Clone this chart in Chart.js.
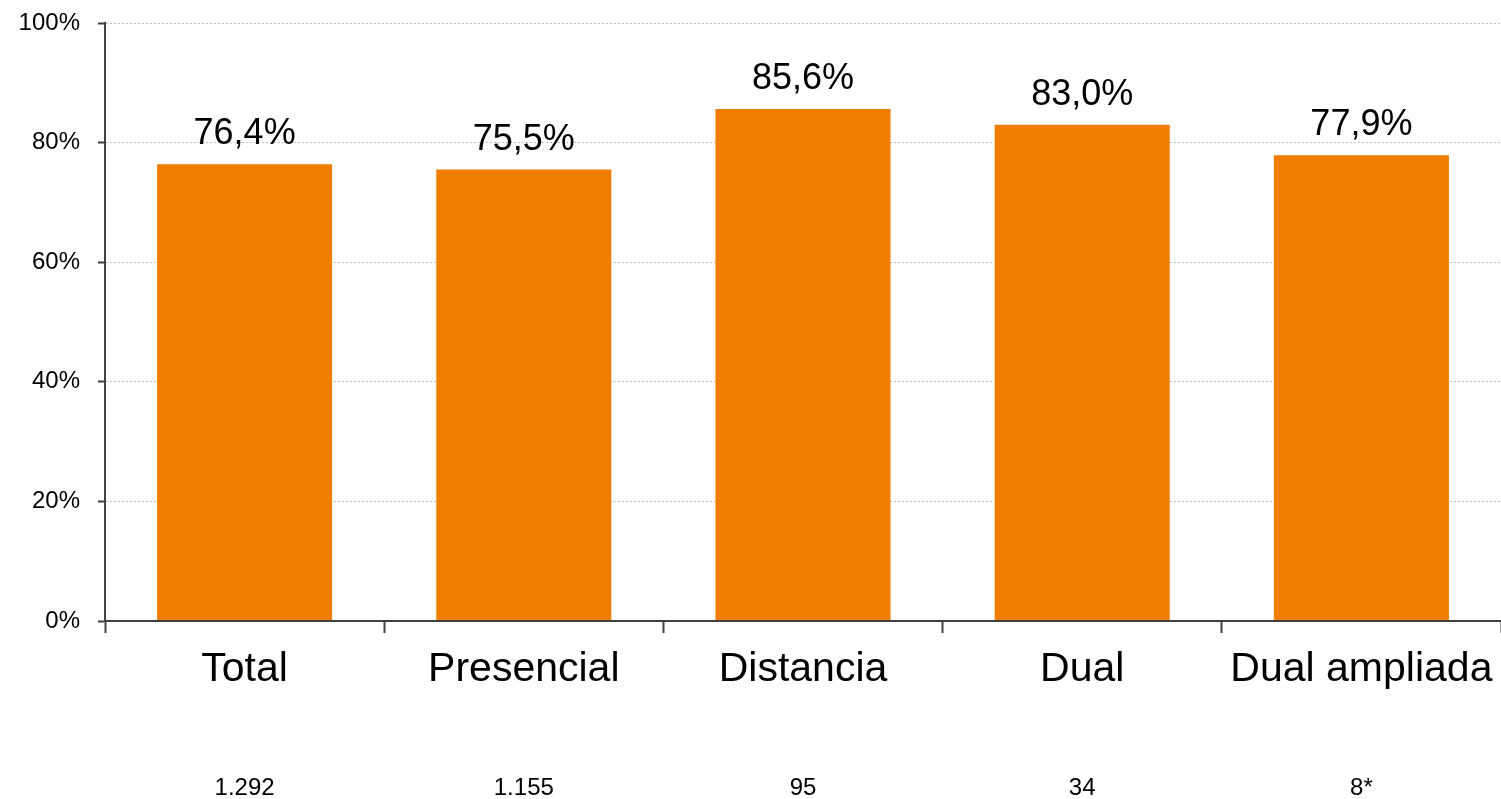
<!DOCTYPE html>
<html>
<head>
<meta charset="utf-8">
<script src="https://cdn.jsdelivr.net/npm/chart.js@4/dist/chart.umd.min.js"></script>
<style>
  html, body { margin: 0; padding: 0; background: #ffffff; }
  #wrap { width: 1501px; height: 799px; }
</style>
</head>
<body>
<div id="wrap"><canvas id="c" width="1501" height="799"></canvas></div>
<script>
const categories = ["Total", "Presencial", "Distancia", "Dual", "Dual ampliada"];
const counts = ["1.292", "1.155", "95", "34", "8*"];
const values = [76.4, 75.5, 85.6, 83.0, 77.9];
const yTicks = [0, 20, 40, 60, 80, 100];

const FONT = "'Liberation Sans', Arial, sans-serif";
const DARK = '#404040';

const valueLabels = {
  id: 'valueLabels',
  afterDatasetsDraw(chart) {
    const ctx = chart.ctx;
    const meta = chart.getDatasetMeta(0);
    ctx.save();
    ctx.font = "36px " + FONT;
    ctx.fillStyle = '#000000';
    ctx.textAlign = 'center';
    ctx.textBaseline = 'alphabetic';
    meta.data.forEach((bar, i) => {
      const v = chart.data.datasets[0].data[i];
      const txt = v.toFixed(1).replace('.', ',') + '%';
      ctx.fillText(txt, bar.x, bar.y - 20);
    });
    ctx.restore();
  }
};

function noPad(scale) {
  scale.paddingTop = 0;
  scale.paddingBottom = 0;
  scale.paddingLeft = 0;
  scale.paddingRight = 0;
}

new Chart(document.getElementById('c'), {
  type: 'bar',
  data: {
    labels: categories,
    datasets: [{
      data: values,
      backgroundColor: '#EE7D00',
      borderWidth: 0,
      categoryPercentage: 1.0,
      barPercentage: 0.627,
      xAxisID: 'x',
      yAxisID: 'y'
    }]
  },
  options: {
    responsive: false,
    animation: false,
    devicePixelRatio: 1,
    layout: { padding: { top: 23, left: 0, right: 0, bottom: 0 } },
    plugins: {
      legend: { display: false },
      tooltip: { enabled: false },
      title: { display: false }
    },
    scales: {
      x: {
        type: 'category',
        position: 'bottom',
        weight: 0,
        offset: true,
        grid: {
          display: true,
          drawOnChartArea: false,
          drawTicks: true,
          offset: true,
          tickLength: 12,
          tickColor: DARK,
          tickWidth: 2
        },
        border: { display: true, color: DARK, width: 2, z: 1 },
        ticks: {
          color: '#000000',
          font: { family: FONT, size: 41 },
          padding: 12,
          maxRotation: 0,
          autoSkip: false
        },
        afterFit(scale) { scale.height = 80; noPad(scale); }
      },
      x2: {
        type: 'category',
        position: 'bottom',
        weight: 1,
        offset: true,
        labels: counts,
        grid: { display: false, drawTicks: false, drawOnChartArea: false },
        border: { display: false },
        ticks: {
          color: '#000000',
          font: { family: FONT, size: 24 },
          padding: 73,
          maxRotation: 0,
          autoSkip: false
        },
        afterFit(scale) { scale.height = 98; noPad(scale); }
      },
      y: {
        type: 'linear',
        min: 0,
        max: 100,
        afterBuildTicks(scale) { scale.ticks = yTicks.map(v => ({ value: v })); },
        grid: {
          display: true,
          drawOnChartArea: true,
          color: '#bfbfbf',
          lineWidth: 1,
          drawTicks: true,
          tickLength: 7,
          tickColor: DARK,
          tickWidth: 2
        },
        border: { display: true, color: DARK, width: 2, dash: [2, 2], z: 1 },
        ticks: {
          color: '#000000',
          font: { family: FONT, size: 24 },
          padding: 18,
          callback: (v) => v + '%'
        },
        afterFit(scale) { scale.width = 105; noPad(scale); }
      }
    }
  },
  plugins: [valueLabels]
});
</script>
</body>
</html>
